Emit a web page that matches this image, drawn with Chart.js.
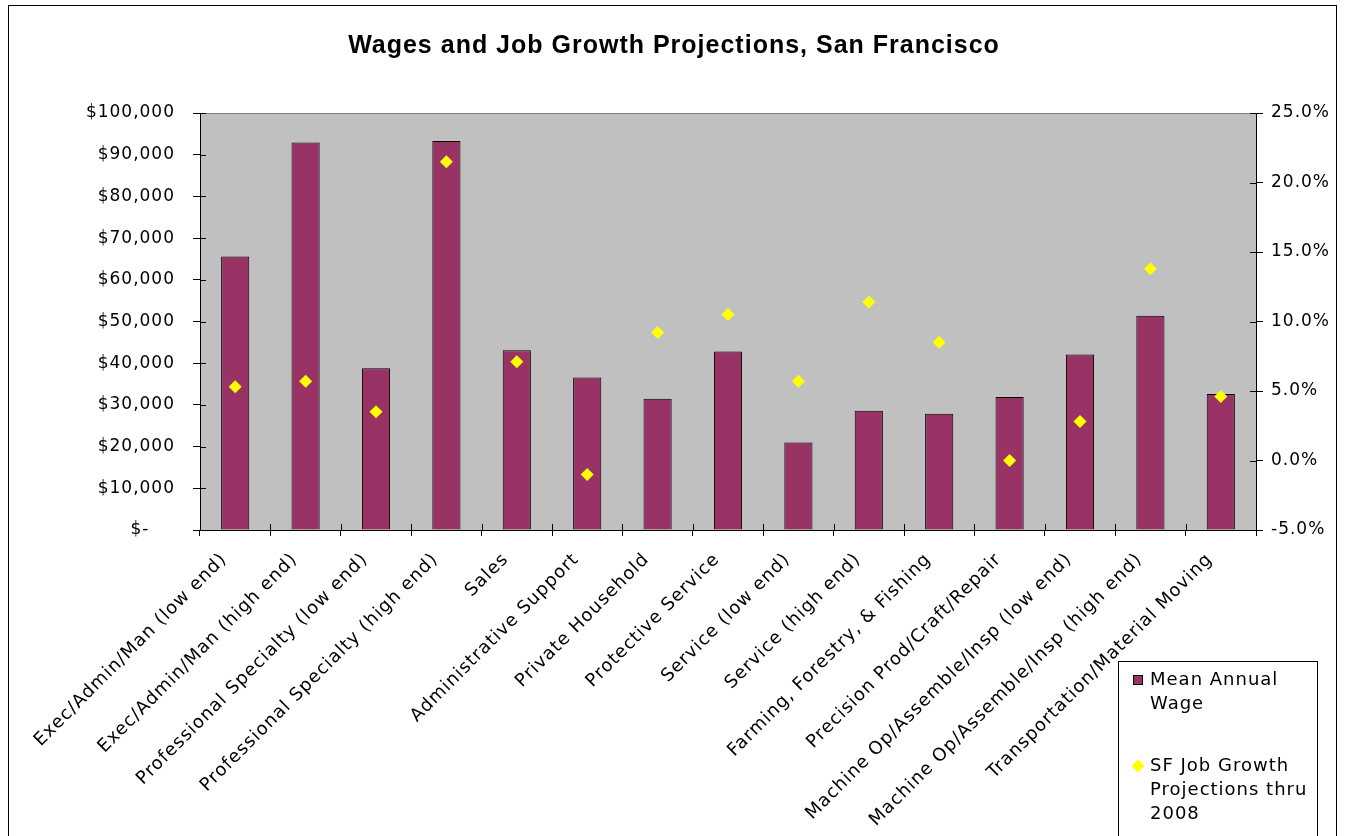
<!DOCTYPE html>
<html>
<head>
<meta charset="utf-8">
<title>Wages and Job Growth Projections, San Francisco</title>
<script src="https://cdn.jsdelivr.net/npm/chart.js@4/dist/chart.umd.min.js"></script>
<style>
    html, body { margin: 0; padding: 0; background: #ffffff; }
    #wrap { width: 1348px; height: 836px; }
</style>
</head>
<body>
<div id="wrap"><canvas id="chart-wages" width="1348" height="836"></canvas></div>
<script>
// occupation groups along the x axis
const categories = [
    'Exec/Admin/Man (low end)',
    'Exec/Admin/Man (high end)',
    'Professional Specialty (low end)',
    'Professional Specialty (high end)',
    'Sales',
    'Administrative Support',
    'Private Household',
    'Protective Service',
    'Service (low end)',
    'Service (high end)',
    'Farming, Forestry, & Fishing',
    'Precision Prod/Craft/Repair',
    'Machine Op/Assemble/Insp (low end)',
    'Machine Op/Assemble/Insp (high end)',
    'Transportation/Material Moving'
];

// Mean annual wage, dollars (left axis)
const meanWage = [65600, 92900, 38800, 93300, 43100, 36600, 31500, 42800,
                  21000, 28600, 27900, 31900, 42100, 51400, 32600];

// SF job growth projections thru 2008, percent (right axis)
const jobGrowth = [5.3, 5.7, 3.5, 21.5, 7.1, -1.0, 9.2, 10.5,
                   5.7, 11.4, 8.5, 0.0, 2.8, 13.8, 4.6];

const wageLabel = 'Mean Annual Wage';
const growthLabel = 'SF Job Growth Projections thru 2008';

const BAR_COLOR = '#993366';
const POINT_COLOR = '#FFFF00';
const FONT = 'DejaVu Sans';

// Excel-ish text is a bit wider than DejaVu, so space the letters a little
const letterSpacing = {
    id: 'letterSpacing',
    beforeLayout(chart) { chart.ctx.letterSpacing = '1px'; },
    beforeDraw(chart) { chart.ctx.letterSpacing = '1px'; }
};

// white page with the outer frame, grey plot area
const frameAndPlot = {
    id: 'frameAndPlot',
    beforeDraw(chart) {
        const ctx = chart.ctx;
        const a = chart.chartArea;
        ctx.save();
        ctx.fillStyle = '#ffffff';
        ctx.fillRect(0, 0, chart.width, chart.height);
        ctx.strokeStyle = '#000000';
        ctx.lineWidth = 1;
        ctx.strokeRect(8.5, 5.5, 1328, chart.height + 20);
        ctx.fillStyle = '#C0C0C0';
        ctx.fillRect(a.left, a.top, a.right - a.left, a.bottom - a.top);
        ctx.strokeStyle = '#808080';
        ctx.strokeRect(a.left + 0.5, a.top + 0.5, a.right - a.left, a.bottom - a.top);
        ctx.restore();
    }
};

// tick marks that cross the axis line (inner half)
const crossTicks = {
    id: 'crossTicks',
    beforeDatasetsDraw(chart) {
        const ctx = chart.ctx;
        const a = chart.chartArea;
        const len = 6;
        ctx.save();
        ctx.strokeStyle = '#000000';
        ctx.lineWidth = 1;
        ctx.beginPath();
        chart.scales.y.ticks.forEach((t, i) => {
            const y = Math.round(chart.scales.y.getPixelForTick(i)) + 0.5;
            ctx.moveTo(a.left, y);
            ctx.lineTo(a.left + len, y);
        });
        chart.scales.y1.ticks.forEach((t, i) => {
            const y = Math.round(chart.scales.y1.getPixelForTick(i)) + 0.5;
            ctx.moveTo(a.right - len, y);
            ctx.lineTo(a.right, y);
        });
        for (let i = 0; i <= categories.length; i++) {
            const x = Math.round(chart.scales.x.getPixelForValue(i - 0.5)) + 0.5;
            ctx.moveTo(x, a.bottom - len);
            ctx.lineTo(x, a.bottom);
        }
        ctx.stroke();
        ctx.restore();
    }
};

function wrapText(ctx, text, maxWidth) {
    const words = text.split(' ');
    const lines = [];
    let line = '';
    words.forEach(w => {
        const test = line ? line + ' ' + w : w;
        if (line && ctx.measureText(test).width > maxWidth) {
            lines.push(line);
            line = w;
        } else {
            line = test;
        }
    });
    if (line) lines.push(line);
    return lines;
}

// boxed legend at the bottom right, labels wrapped like the original
const boxLegend = {
    id: 'boxLegend',
    afterDraw(chart) {
        const ctx = chart.ctx;
        const bx = 1118, by = 661, bw = 199;
        ctx.save();
        ctx.letterSpacing = '1px';
        ctx.fillStyle = '#ffffff';
        ctx.fillRect(bx, by, bw, chart.height - by + 20);
        ctx.strokeStyle = '#000000';
        ctx.lineWidth = 1;
        ctx.strokeRect(bx + 0.5, by + 0.5, bw, chart.height - by + 20);

        ctx.font = `18px ${FONT}`;
        ctx.textBaseline = 'middle';
        ctx.textAlign = 'left';
        const lineH = 24;
        const items = [
            { ds: chart.data.datasets[0], y: 680 },
            { ds: chart.data.datasets[1], y: 766 }
        ];
        items.forEach(item => {
            const mx = 1138;
            if (item.ds.type === 'bar') {
                ctx.fillStyle = BAR_COLOR;
                ctx.fillRect(mx - 5, item.y - 5, 10, 10);
                ctx.strokeStyle = '#000000';
                ctx.strokeRect(mx - 4.5, item.y - 4.5, 9, 9);
            } else {
                ctx.fillStyle = POINT_COLOR;
                ctx.beginPath();
                ctx.moveTo(mx, item.y - 6.5);
                ctx.lineTo(mx + 6.5, item.y);
                ctx.lineTo(mx, item.y + 6.5);
                ctx.lineTo(mx - 6.5, item.y);
                ctx.closePath();
                ctx.fill();
            }
            ctx.fillStyle = '#000000';
            wrapText(ctx, item.ds.label, 165).forEach((ln, k) => {
                ctx.fillText(ln, 1150, item.y + k * lineH);
            });
        });
        ctx.restore();
    }
};

new Chart(document.getElementById('chart-wages'), {
    data: {
        labels: categories,
        datasets: [{
            type: 'bar',
            label: wageLabel,
            data: meanWage,
            yAxisID: 'y',
            backgroundColor: BAR_COLOR,
            borderColor: '#000000',
            borderWidth: 1,
            barPercentage: 0.4,
            categoryPercentage: 1,
            order: 1
        }, {
            type: 'line',
            label: growthLabel,
            data: jobGrowth,
            yAxisID: 'y1',
            showLine: false,
            pointStyle: 'rectRot',
            pointRadius: 6.5,
            pointBackgroundColor: POINT_COLOR,
            pointBorderColor: POINT_COLOR,
            pointBorderWidth: 0,
            order: 0
        }]
    },
    options: {
        responsive: false,
        animation: false,
        layout: { padding: 0 },
        plugins: {
            legend: { display: false },
            tooltip: { enabled: false },
            title: {
                display: true,
                text: 'Wages and Job Growth Projections, San Francisco',
                color: '#000000',
                font: { family: 'Liberation Sans', size: 25, weight: 'bold', lineHeight: 1.2 },
                padding: { top: 31, bottom: 52 }
            }
        },
        scales: {
            x: {
                type: 'category',
                grid: { display: true, drawOnChartArea: false, tickLength: 6, color: '#000000', offset: true },
                border: { display: true, color: '#000000' },
                ticks: {
                    autoSkip: false,
                    minRotation: 45,
                    maxRotation: 45,
                    padding: 13,
                    labelOffset: -11,
                    color: '#000000',
                    font: { family: FONT, size: 18 }
                },
                afterFit(scale) { scale.height = 306; }
            },
            y: {
                position: 'left',
                min: 0,
                max: 100000,
                grid: { display: true, drawOnChartArea: false, tickLength: 7, color: '#000000' },
                border: { display: true, color: '#000000' },
                ticks: {
                    stepSize: 10000,
                    padding: 18,
                    color: '#000000',
                    font: { family: FONT, size: 17 },
                    callback: v => v === 0 ? '$-    ' : '$' + v.toLocaleString('en-US')
                },
                afterFit(scale) { scale.width = 200; }
            },
            y1: {
                position: 'right',
                min: -5,
                max: 25,
                grid: { display: true, drawOnChartArea: false, tickLength: 7, color: '#000000' },
                border: { display: true, color: '#000000' },
                ticks: {
                    stepSize: 5,
                    padding: 8,
                    color: '#000000',
                    font: { family: FONT, size: 17 },
                    callback: v => v.toFixed(1) + '%'
                },
                afterFit(scale) { scale.width = 92; }
            }
        }
    },
    plugins: [letterSpacing, frameAndPlot, crossTicks, boxLegend]
});
</script>
</body>
</html>
